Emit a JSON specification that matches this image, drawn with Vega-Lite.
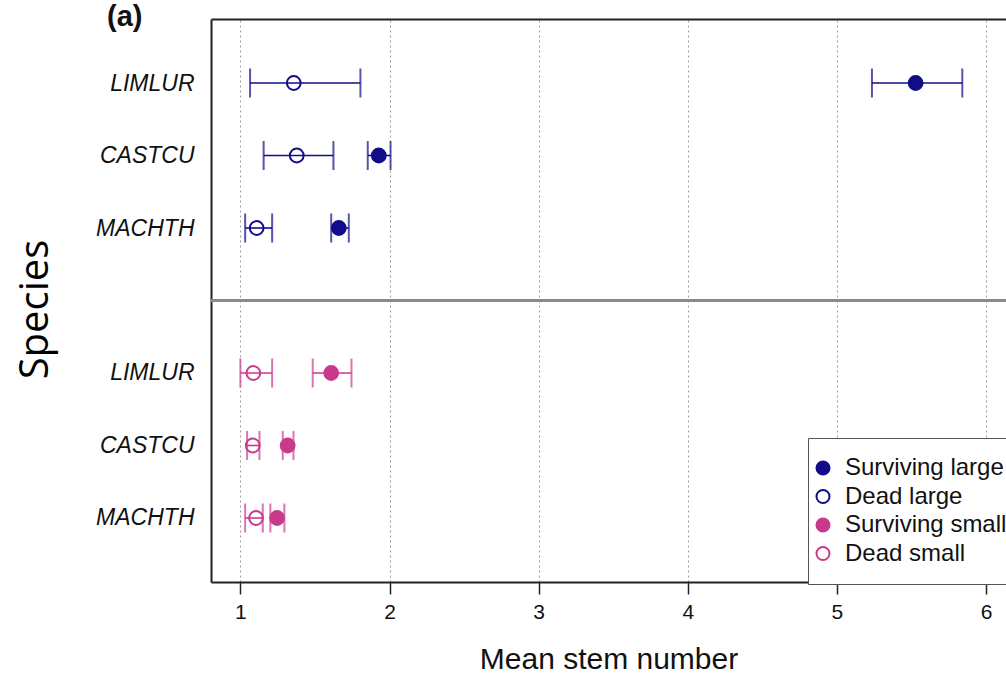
{
  "$schema": "https://vega.github.io/schema/vega-lite/v6.json",
  "autosize": {"type": "none"},
  "width": 795,
  "height": 563,
  "padding": {"left": 211, "top": 19, "right": 0, "bottom": 93},
  "background": "white",
  "config": {"view": {"stroke": null}, "font": "Liberation Sans"},
  "title": {"text": "(a)", "anchor": "start", "frame": "group", "dx": -104, "dy": 36, "offset": 0, "baseline": "alphabetic", "fontSize": 29, "fontWeight": "bold", "color": "#111", "font": "Liberation Sans"},
  "data": {"values": [
    {"species": "LIMLUR", "size": "L", "status": "Surviving large", "mean": 5.528, "lo": 5.235, "hi": 5.841},
    {"species": "LIMLUR", "size": "L", "status": "Dead large", "mean": 1.358, "lo": 1.065, "hi": 1.805},
    {"species": "CASTCU", "size": "L", "status": "Surviving large", "mean": 1.928, "lo": 1.854, "hi": 2.007},
    {"species": "CASTCU", "size": "L", "status": "Dead large", "mean": 1.378, "lo": 1.156, "hi": 1.624},
    {"species": "MACHTH", "size": "L", "status": "Surviving large", "mean": 1.66, "lo": 1.609, "hi": 1.727},
    {"species": "MACHTH", "size": "L", "status": "Dead large", "mean": 1.109, "lo": 1.032, "hi": 1.213},
    {"species": "LIMLUR", "size": "S", "status": "Surviving small", "mean": 1.609, "lo": 1.485, "hi": 1.745},
    {"species": "LIMLUR", "size": "S", "status": "Dead small", "mean": 1.087, "lo": 1.0, "hi": 1.213},
    {"species": "CASTCU", "size": "S", "status": "Surviving small", "mean": 1.317, "lo": 1.284, "hi": 1.356},
    {"species": "CASTCU", "size": "S", "status": "Dead small", "mean": 1.083, "lo": 1.045, "hi": 1.128},
    {"species": "MACHTH", "size": "S", "status": "Surviving small", "mean": 1.246, "lo": 1.201, "hi": 1.295},
    {"species": "MACHTH", "size": "S", "status": "Dead small", "mean": 1.105, "lo": 1.032, "hi": 1.15}
  ]},
  "transform": [{"calculate": "datum.size + '|' + datum.species", "as": "row"}],
  "resolve": {"axis": {"x": "independent"}},
  "layer": [
    {
      "mark": {"type": "point", "opacity": 0},
      "encoding": {
        "y": {"field": "row", "type": "nominal", "scale": {"type": "point", "padding": 0.883, "domain": ["L|LIMLUR", "L|CASTCU", "L|MACHTH", "sep", "S|LIMLUR", "S|CASTCU", "S|MACHTH"]},
          "axis": {"title": "Species", "titleFont": "Open Sans", "titleFontSize": 40, "titleFontWeight": "normal", "titleColor": "#000", "titleAngle": -90, "titleX": -164, "titleY": 290, "titleAlign": "center", "titleBaseline": "alphabetic",
            "labelExpr": "indexof(datum.value, '|') >= 0 ? split(datum.value, '|')[1] : ''", "labelFontStyle": "italic", "labelFontSize": 23, "labelColor": "#111", "labelPadding": 17, "ticks": false, "domain": true, "domainColor": "#222", "domainWidth": 2, "grid": false}},
        "x": {"field": "mean", "type": "quantitative", "scale": {"domain": [0.803, 6.134], "nice": false, "zero": false},
          "axis": {"orient": "top", "title": null, "labels": false, "ticks": false, "grid": false, "domain": true, "domainColor": "#222", "domainWidth": 2}}
      }
    },
    {
      "mark": {"type": "rule", "color": "#8a8a8a", "strokeWidth": 2},
      "encoding": {
        "y": {"datum": "sep", "type": "nominal"}
      }
    },
    {
      "mark": {"type": "rule", "strokeWidth": 1.6},
      "encoding": {
        "y": {"field": "row", "type": "nominal"},
        "x": {"field": "lo", "type": "quantitative",
          "axis": {"orient": "bottom", "title": "Mean stem number", "titleFontSize": 30, "titleFontWeight": "normal", "titleColor": "#111", "titlePadding": 22,
            "values": [1, 2, 3, 4, 5, 6], "labelFontSize": 21, "labelColor": "#111", "labelPadding": 7, "tickSize": 12, "tickColor": "#222", "tickWidth": 1.5,
            "domainColor": "#222", "domainWidth": 2, "grid": true, "gridColor": "#9a9a9a", "gridDash": [2, 3], "gridWidth": 1}},
        "x2": {"field": "hi"},
        "color": {"field": "size", "type": "nominal", "legend": null, "scale": {"domain": ["L", "S"], "range": ["#100c8a", "#c93a8e"]}}
      }
    },
    {
      "mark": {"type": "tick", "thickness": 2, "size": 29},
      "encoding": {
        "y": {"field": "row", "type": "nominal"},
        "x": {"field": "lo", "type": "quantitative", "axis": null},
        "color": {"field": "size", "type": "nominal", "legend": null}
      }
    },
    {
      "mark": {"type": "tick", "thickness": 2, "size": 29},
      "encoding": {
        "y": {"field": "row", "type": "nominal"},
        "x": {"field": "hi", "type": "quantitative", "axis": null},
        "color": {"field": "size", "type": "nominal", "legend": null}
      }
    },
    {
      "mark": {"type": "point", "shape": "circle", "size": 190, "strokeWidth": 2, "opacity": 1},
      "encoding": {
        "y": {"field": "row", "type": "nominal"},
        "x": {"field": "mean", "type": "quantitative", "axis": null},
        "stroke": {"field": "status", "type": "nominal", "scale": {"domain": ["Surviving large", "Dead large", "Surviving small", "Dead small"], "range": ["#100c8a", "#100c8a", "#c93a8e", "#c93a8e"]},
          "legend": {"orient": "none", "legendX": 597, "legendY": 419, "title": null, "labelFontSize": 24, "labelColor": "#111", "symbolSize": 170, "symbolStrokeWidth": 2, "padding": 18, "rowPadding": 4.5, "labelOffset": 10, "symbolOffset": -15, "strokeColor": "#555", "fillColor": "white", "symbolType": "circle", "labelLimit": 400}},
        "fill": {"field": "status", "type": "nominal", "scale": {"domain": ["Surviving large", "Dead large", "Surviving small", "Dead small"], "range": ["#100c8a", "transparent", "#c93a8e", "transparent"]},
          "legend": {"orient": "none", "legendX": 597, "legendY": 419, "title": null, "labelFontSize": 24, "labelColor": "#111", "symbolSize": 170, "symbolStrokeWidth": 2, "padding": 18, "rowPadding": 4.5, "labelOffset": 10, "symbolOffset": -15, "strokeColor": "#555", "fillColor": "white", "symbolType": "circle", "labelLimit": 400}}
      }
    }
  ]
}
